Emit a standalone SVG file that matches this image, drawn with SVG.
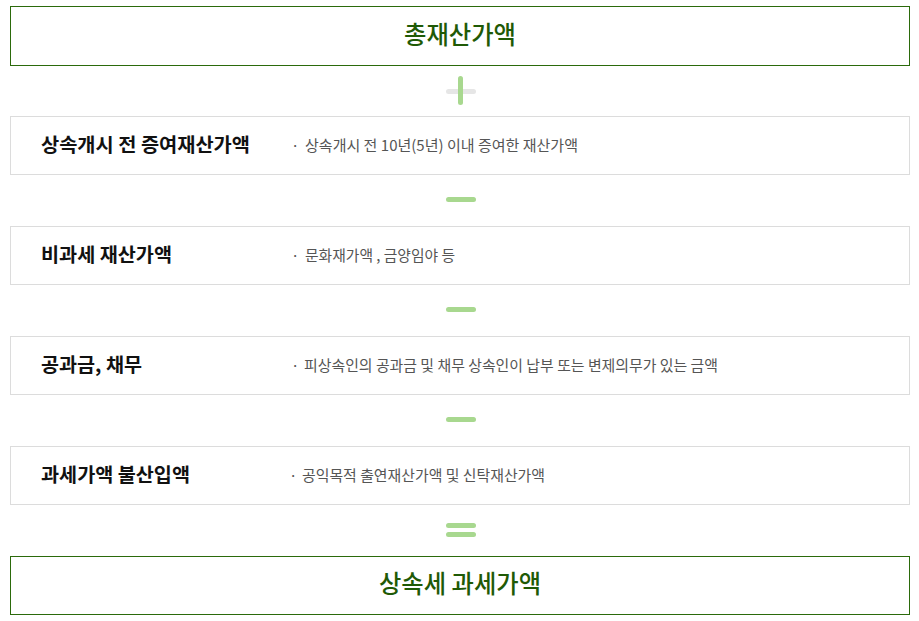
<svg xmlns="http://www.w3.org/2000/svg" width="919" height="621" viewBox="0 0 919 621">
<style>
text{font-family:"Noto Sans CJK KR","Noto Sans",sans-serif}
.hbox{fill:#fff;stroke:#2b6a0b;stroke-width:1}
.hl{font-size:24.5px;font-weight:500;fill:#1f5a06;text-anchor:middle}
.box{fill:#fff;stroke:#dcdcdc;stroke-width:1}
.t{font-size:19.5px;font-weight:700;fill:#111}
.d{font-size:15px;fill:#555}
.g{fill:#a8d88f}
.gr{fill:#e6e6e6}
</style>
<rect width="919" height="621" fill="#fff"/>
<g id="total">
<rect class="hbox" x="10.5" y="6.5" width="899" height="59"/>
<text class="hl" x="460" y="44" textLength="112" lengthAdjust="spacingAndGlyphs">총재산가액</text>
</g>
<g id="gift">
<rect class="box" x="10.5" y="116.5" width="899" height="58"/>
<text class="t" x="41" y="152" textLength="209" lengthAdjust="spacingAndGlyphs">상속개시 전 증여재산가액</text>
<text class="d" x="291" y="151">·</text>
<text class="d" x="305" y="151" textLength="273" lengthAdjust="spacingAndGlyphs">상속개시 전 10년(5년) 이내 증여한 재산가액</text>
</g>
<g id="nontax">
<rect class="box" x="10.5" y="226.5" width="899" height="58"/>
<text class="t" x="41" y="262" textLength="131" lengthAdjust="spacingAndGlyphs">비과세 재산가액</text>
<text class="d" x="291" y="261">·</text>
<text class="d" x="305" y="261" textLength="150" lengthAdjust="spacingAndGlyphs">문화재가액 , 금양임야 등</text>
</g>
<g id="debt">
<rect class="box" x="10.5" y="336.5" width="899" height="58"/>
<text class="t" x="41" y="372" textLength="101" lengthAdjust="spacingAndGlyphs">공과금, 채무</text>
<text class="d" x="291" y="371">·</text>
<text class="d" x="304" y="371" textLength="414" lengthAdjust="spacingAndGlyphs">피상속인의 공과금 및 채무 상속인이 납부 또는 변제의무가 있는 금액</text>
</g>
<g id="exclude">
<rect class="box" x="10.5" y="446.5" width="899" height="58"/>
<text class="t" x="41" y="482" textLength="149" lengthAdjust="spacingAndGlyphs">과세가액 불산입액</text>
<text class="d" x="289" y="481">·</text>
<text class="d" x="302" y="481" textLength="243" lengthAdjust="spacingAndGlyphs">공익목적 출연재산가액 및 신탁재산가액</text>
</g>
<g id="result">
<rect class="hbox" x="10.5" y="556.5" width="899" height="58"/>
<text class="hl" x="460" y="593" textLength="162" lengthAdjust="spacingAndGlyphs">상속세 과세가액</text>
</g>
<g id="connectors">
<rect class="gr" x="446" y="89" width="30" height="5" rx="2.5"/>
<rect class="g" x="458" y="76" width="5" height="29" rx="2.5"/>
<rect class="g" x="446" y="197" width="30" height="5" rx="2.5"/>
<rect class="g" x="446" y="307" width="30" height="5" rx="2.5"/>
<rect class="g" x="446" y="417" width="30" height="5" rx="2.5"/>
<rect class="g" x="446" y="523" width="30" height="5" rx="2.5"/>
<rect class="g" x="446" y="532" width="30" height="5" rx="2.5"/>
</g>
</svg>
